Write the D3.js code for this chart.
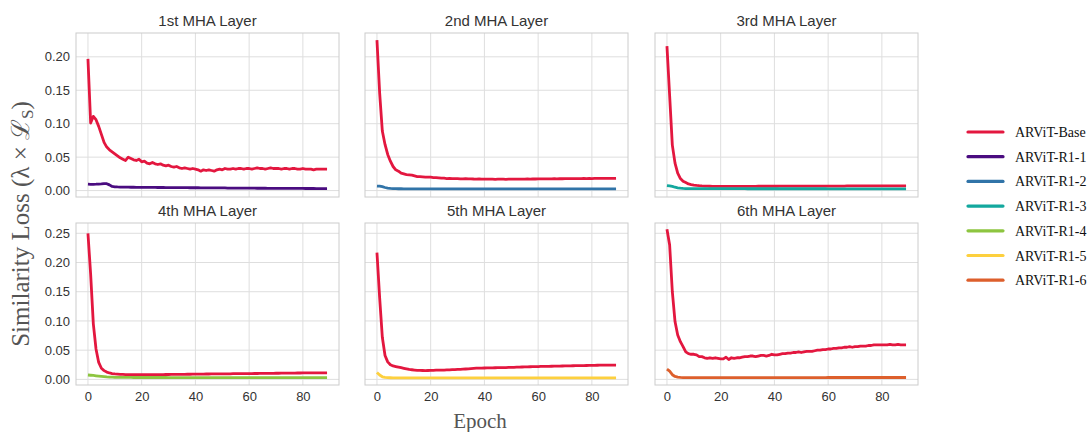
<!DOCTYPE html>
<html>
<head>
<meta charset="utf-8">
<script src="https://cdn.jsdelivr.net/npm/d3@7"></script>
<style>
  body { margin: 0; background: #fff; }
</style>
</head>
<body>
<div id="chart"></div>
<script>
var width = 1088,
    height = 432;

// one title per subplot, left to right, top to bottom
var titles = ["1st MHA Layer", "2nd MHA Layer", "3rd MHA Layer",
              "4th MHA Layer", "5th MHA Layer", "6th MHA Layer"];

var seriesNames = ["ARViT-Base", "ARViT-R1-1", "ARViT-R1-2", "ARViT-R1-3",
                   "ARViT-R1-4", "ARViT-R1-5", "ARViT-R1-6"];
var seriesColors = ["#e3173f", "#4a0c80", "#3174a8", "#13a89e",
                    "#8dc540", "#fdd03e", "#dd5f2c"];

var xTicks = [0, 20, 40, 60, 80];
var yTicksTop = [0, 0.05, 0.10, 0.15, 0.20];
var yTicksBottom = [0, 0.05, 0.10, 0.15, 0.20, 0.25];

// loss per epoch (0..89)
var base1 = [0.197,0.101,0.111,0.106,0.096,0.084,0.072,0.065,0.061,0.058,
             0.055,0.052,0.049,0.047,0.045,0.050,0.048,0.046,0.045,0.047,
             0.043,0.044,0.041,0.040,0.042,0.040,0.039,0.040,0.038,0.037,
             0.038,0.036,0.035,0.036,0.034,0.033,0.034,0.033,0.032,0.033,
             0.032,0.031,0.029,0.031,0.030,0.031,0.030,0.029,0.031,0.032,
             0.031,0.033,0.032,0.032,0.033,0.032,0.033,0.033,0.032,0.033,
             0.033,0.032,0.033,0.034,0.033,0.033,0.032,0.033,0.034,0.033,
             0.033,0.033,0.032,0.033,0.033,0.032,0.033,0.033,0.032,0.032,
             0.033,0.032,0.032,0.032,0.031,0.032,0.032,0.032,0.032,0.032];
var r1_1 = [0.0095,0.0093,0.0094,0.0095,0.0098,0.0100,0.0105,0.0103,0.0085,0.0062,
            0.0056,0.0054,0.0053,0.0052,0.0051,0.0051,0.0050,0.0050,0.0049,0.0049,
            0.0048,0.0048,0.0048,0.0047,0.0047,0.0047,0.0046,0.0046,0.0046,0.0045,
            0.0045,0.0045,0.0044,0.0044,0.0044,0.0043,0.0043,0.0043,0.0042,0.0042,
            0.0042,0.0042,0.0041,0.0041,0.0041,0.0040,0.0040,0.0040,0.0040,0.0039,
            0.0039,0.0039,0.0038,0.0038,0.0038,0.0038,0.0037,0.0037,0.0037,0.0036,
            0.0036,0.0036,0.0036,0.0035,0.0035,0.0035,0.0035,0.0034,0.0034,0.0034,
            0.0034,0.0033,0.0033,0.0033,0.0033,0.0033,0.0032,0.0032,0.0032,0.0032,
            0.0032,0.0031,0.0031,0.0031,0.0031,0.0030,0.0030,0.0030,0.0030,0.0030];

var base2 = [0.225,0.146,0.089,0.069,0.054,0.044,0.036,0.031,0.029,0.026,
             0.025,0.024,0.0235,0.023,0.022,0.021,0.021,0.0205,0.020,0.020,
             0.020,0.0195,0.0195,0.019,0.0185,0.0185,0.018,0.0182,0.018,0.0178,
             0.018,0.0176,0.0175,0.0177,0.0174,0.0175,0.0173,0.0172,0.0174,0.0172,
             0.0171,0.0172,0.017,0.0171,0.0169,0.017,0.0171,0.017,0.0169,0.017,
             0.017,0.0171,0.017,0.0172,0.0171,0.0172,0.0173,0.0172,0.0174,0.0173,
             0.0174,0.0175,0.0174,0.0176,0.0175,0.0176,0.0177,0.0176,0.0178,0.0177,
             0.0178,0.0179,0.0178,0.0179,0.018,0.0179,0.018,0.0181,0.018,0.0181,
             0.018,0.0181,0.0182,0.0181,0.0182,0.0181,0.0182,0.0182,0.0181,0.0182];
var r1_2 = [0.0068,0.0066,0.0058,0.0046,0.0038,0.0033,0.0030,0.0028,0.0027,0.0027,
            0.0026,0.0026,0.0026,0.0026,0.0026,0.0026,0.0026,0.0026,0.0026,0.0026,
            0.0026,0.0026,0.0026,0.0026,0.0026,0.0026,0.0026,0.0026,0.0026,0.0026,
            0.0026,0.0026,0.0026,0.0026,0.0026,0.0026,0.0026,0.0026,0.0026,0.0026,
            0.0025,0.0025,0.0025,0.0025,0.0025,0.0025,0.0025,0.0025,0.0025,0.0025,
            0.0025,0.0025,0.0025,0.0025,0.0025,0.0025,0.0025,0.0025,0.0025,0.0025,
            0.0025,0.0025,0.0025,0.0025,0.0025,0.0025,0.0025,0.0025,0.0025,0.0025,
            0.0024,0.0024,0.0024,0.0024,0.0024,0.0024,0.0024,0.0024,0.0024,0.0024,
            0.0024,0.0024,0.0024,0.0024,0.0024,0.0024,0.0024,0.0024,0.0024,0.0024];

var base3 = [0.216,0.142,0.068,0.041,0.026,0.018,0.014,0.012,0.010,0.009,
             0.0082,0.0077,0.0073,0.0070,0.0068,0.0066,0.0065,0.0064,0.0064,0.0063,
             0.0063,0.0063,0.0063,0.0063,0.0063,0.0063,0.0063,0.0064,0.0064,0.0064,
             0.0064,0.0064,0.0064,0.0064,0.0065,0.0065,0.0065,0.0065,0.0065,0.0065,
             0.0065,0.0065,0.0066,0.0066,0.0066,0.0066,0.0066,0.0066,0.0066,0.0066,
             0.0067,0.0067,0.0067,0.0067,0.0067,0.0067,0.0067,0.0067,0.0068,0.0068,
             0.0068,0.0068,0.0068,0.0068,0.0068,0.0068,0.0068,0.0069,0.0069,0.0069,
             0.0069,0.0069,0.0069,0.0069,0.0069,0.0069,0.0070,0.0070,0.0070,0.0070,
             0.0070,0.0070,0.0070,0.0070,0.0070,0.0070,0.0070,0.0070,0.0070,0.0070];
var r1_3 = [0.0075,0.0070,0.0062,0.0050,0.0042,0.0036,0.0032,0.0030,0.0029,0.0028,
            0.0028,0.0028,0.0028,0.0028,0.0028,0.0028,0.0028,0.0028,0.0028,0.0028,
            0.0028,0.0028,0.0028,0.0028,0.0028,0.0028,0.0028,0.0028,0.0028,0.0028,
            0.0027,0.0027,0.0027,0.0027,0.0027,0.0027,0.0027,0.0027,0.0027,0.0027,
            0.0027,0.0027,0.0027,0.0027,0.0027,0.0027,0.0027,0.0027,0.0027,0.0027,
            0.0027,0.0027,0.0027,0.0027,0.0027,0.0027,0.0027,0.0027,0.0027,0.0027,
            0.0026,0.0026,0.0026,0.0026,0.0026,0.0026,0.0026,0.0026,0.0026,0.0026,
            0.0026,0.0026,0.0026,0.0026,0.0026,0.0026,0.0026,0.0026,0.0026,0.0026,
            0.0026,0.0026,0.0026,0.0026,0.0026,0.0026,0.0026,0.0026,0.0026,0.0026];

var base4 = [0.250,0.180,0.095,0.052,0.029,0.019,0.015,0.0125,0.011,0.010,
             0.0093,0.009,0.0087,0.0085,0.0083,0.0082,0.0081,0.008,0.008,0.008,
             0.008,0.008,0.008,0.0081,0.0081,0.0082,0.0082,0.0083,0.0083,0.0084,
             0.0084,0.0085,0.0085,0.0086,0.0086,0.0087,0.0087,0.0088,0.0088,0.0089,
             0.009,0.009,0.0091,0.0091,0.0092,0.0092,0.0093,0.0093,0.0094,0.0094,
             0.0095,0.0095,0.0096,0.0096,0.0097,0.0097,0.0098,0.0098,0.0099,0.0099,
             0.010,0.010,0.0101,0.0101,0.0102,0.0102,0.0103,0.0103,0.0104,0.0104,
             0.0105,0.0105,0.0106,0.0106,0.0107,0.0107,0.0108,0.0108,0.0109,0.0109,
             0.011,0.011,0.011,0.0111,0.0111,0.0111,0.0112,0.0112,0.0112,0.0112];
var r1_4 = [0.0075,0.0071,0.0067,0.0061,0.0055,0.0050,0.0046,0.0042,0.0040,0.0038,
            0.0036,0.0035,0.0034,0.0034,0.0033,0.0033,0.0033,0.0032,0.0032,0.0032,
            0.0032,0.0032,0.0032,0.0032,0.0032,0.0032,0.0032,0.0032,0.0032,0.0032,
            0.0031,0.0031,0.0031,0.0031,0.0031,0.0031,0.0031,0.0031,0.0031,0.0031,
            0.0031,0.0031,0.0031,0.0031,0.0031,0.0031,0.0031,0.0031,0.0031,0.0031,
            0.0030,0.0030,0.0030,0.0030,0.0030,0.0030,0.0030,0.0030,0.0030,0.0030,
            0.0030,0.0030,0.0030,0.0030,0.0030,0.0030,0.0030,0.0030,0.0030,0.0030,
            0.0030,0.0030,0.0030,0.0030,0.0030,0.0030,0.0030,0.0030,0.0030,0.0030,
            0.0030,0.0030,0.0030,0.0030,0.0030,0.0030,0.0030,0.0030,0.0030,0.0030];

var base5 = [0.217,0.140,0.072,0.041,0.030,0.025,0.023,0.022,0.021,0.020,
             0.019,0.018,0.017,0.0165,0.016,0.0155,0.0153,0.0152,0.015,0.0152,
             0.0155,0.0155,0.0157,0.0158,0.016,0.016,0.0162,0.0164,0.0166,0.0168,
             0.017,0.0172,0.0175,0.0178,0.018,0.0185,0.0188,0.0192,0.0193,0.0194,
             0.0195,0.0196,0.0197,0.0198,0.0199,0.020,0.0201,0.0202,0.0203,0.0204,
             0.0205,0.0207,0.0209,0.0211,0.0212,0.0214,0.0215,0.0216,0.0218,0.0219,
             0.022,0.0221,0.0222,0.0223,0.0224,0.0225,0.0226,0.0227,0.0228,0.0229,
             0.023,0.0231,0.0232,0.0233,0.0234,0.0235,0.0236,0.0237,0.0238,0.0239,
             0.024,0.0241,0.0242,0.0243,0.0244,0.0244,0.0245,0.0245,0.0245,0.0245];
var r1_5 = [0.0120,0.0075,0.0045,0.0035,0.0030,0.0028,0.0027,0.0027,0.0027,0.0027,
            0.0027,0.0027,0.0027,0.0027,0.0027,0.0027,0.0027,0.0027,0.0027,0.0027,
            0.0026,0.0026,0.0026,0.0026,0.0026,0.0026,0.0026,0.0026,0.0026,0.0026,
            0.0026,0.0026,0.0026,0.0026,0.0026,0.0026,0.0026,0.0026,0.0026,0.0026,
            0.0026,0.0026,0.0026,0.0026,0.0026,0.0026,0.0026,0.0026,0.0026,0.0026,
            0.0025,0.0025,0.0025,0.0025,0.0025,0.0025,0.0025,0.0025,0.0025,0.0025,
            0.0025,0.0025,0.0025,0.0025,0.0025,0.0025,0.0025,0.0025,0.0025,0.0025,
            0.0025,0.0025,0.0025,0.0025,0.0025,0.0025,0.0025,0.0025,0.0025,0.0025,
            0.0025,0.0025,0.0025,0.0025,0.0025,0.0025,0.0025,0.0025,0.0025,0.0025];

var base6 = [0.257,0.230,0.150,0.099,0.076,0.0645,0.056,0.047,0.044,0.043,
             0.043,0.042,0.039,0.039,0.037,0.036,0.037,0.036,0.037,0.036,
             0.035,0.035,0.038,0.034,0.037,0.036,0.037,0.037,0.038,0.039,
             0.039,0.040,0.040,0.039,0.040,0.041,0.041,0.040,0.041,0.043,
             0.042,0.042,0.043,0.044,0.044,0.045,0.045,0.046,0.046,0.047,
             0.046,0.047,0.048,0.048,0.048,0.049,0.050,0.050,0.051,0.051,
             0.052,0.052,0.053,0.053,0.054,0.054,0.055,0.055,0.056,0.055,
             0.056,0.056,0.057,0.057,0.057,0.058,0.058,0.059,0.059,0.059,
             0.059,0.059,0.059,0.060,0.059,0.059,0.060,0.059,0.059,0.059];
var r1_6 = [0.0177,0.0140,0.0080,0.0050,0.0038,0.0033,0.0030,0.0030,0.0030,0.0030,
            0.0030,0.0030,0.0030,0.0030,0.0030,0.0030,0.0030,0.0030,0.0030,0.0030,
            0.0030,0.0030,0.0030,0.0030,0.0030,0.0030,0.0030,0.0030,0.0030,0.0030,
            0.0031,0.0031,0.0031,0.0031,0.0031,0.0031,0.0031,0.0031,0.0031,0.0031,
            0.0031,0.0031,0.0031,0.0031,0.0031,0.0031,0.0031,0.0031,0.0031,0.0031,
            0.0031,0.0031,0.0031,0.0031,0.0031,0.0031,0.0031,0.0031,0.0031,0.0031,
            0.0032,0.0032,0.0032,0.0032,0.0032,0.0032,0.0032,0.0032,0.0032,0.0032,
            0.0032,0.0032,0.0032,0.0032,0.0032,0.0032,0.0032,0.0032,0.0032,0.0032,
            0.0032,0.0032,0.0032,0.0032,0.0032,0.0032,0.0032,0.0032,0.0032,0.0032];

var baseSeries = [base1, base2, base3, base4, base5, base6];
var refSeries = [r1_1, r1_2, r1_3, r1_4, r1_5, r1_6];

// layout
var colLeft = [76, 365, 655],
    panelW = 263;
var rowTop = [33, 223],
    rowH = [164, 162];
var gridColor = "#dedede",
    spineColor = "#cccccc";

var svg = d3.select("#chart").append("svg")
    .attr("width", width)
    .attr("height", height)
    .style("font-family", "'Liberation Sans', Arial, sans-serif");

var x = d3.scaleLinear().domain([-4.45, 93.45]);
var yTop = d3.scaleLinear().domain([-0.0096, 0.2356]);
var yBottom = d3.scaleLinear().domain([-0.0096, 0.2676]);

titles.forEach(function(title, i) {
    var col = i % 3,
        row = Math.floor(i / 3);
    var left = colLeft[col],
        top = rowTop[row],
        h = rowH[row];

    var xs = x.copy().range([0, panelW]);
    var ys = (row === 0 ? yTop : yBottom).copy().range([h, 0]);
    var yTicks = row === 0 ? yTicksTop : yTicksBottom;

    var g = svg.append("g").attr("transform", "translate(" + left + "," + top + ")");

    g.append("clipPath").attr("id", "clip" + i)
      .append("rect").attr("width", panelW).attr("height", h);

    // grid
    g.append("g").selectAll("line.v").data(xTicks).enter().append("line")
        .attr("x1", xs).attr("x2", xs)
        .attr("y1", 0).attr("y2", h)
        .attr("stroke", gridColor).attr("stroke-width", 1);
    g.append("g").selectAll("line.h").data(yTicks).enter().append("line")
        .attr("x1", 0).attr("x2", panelW)
        .attr("y1", ys).attr("y2", ys)
        .attr("stroke", gridColor).attr("stroke-width", 1);

    g.append("rect")
        .attr("width", panelW).attr("height", h)
        .attr("fill", "none")
        .attr("stroke", spineColor).attr("stroke-width", 1);

    // tick labels: y on first column, x on bottom row
    if (col === 0) {
        var yAxis = g.append("g")
            .call(d3.axisLeft(ys).tickValues(yTicks).tickFormat(d3.format(".2f")).tickSize(0).tickPadding(6));
        yAxis.select(".domain").remove();
        yAxis.selectAll("text").attr("font-size", 13).attr("fill", "#333")
            .style("font-family", "'Liberation Sans', Arial, sans-serif");
    }
    if (row === 1) {
        var xAxis = g.append("g").attr("transform", "translate(0," + h + ")")
            .call(d3.axisBottom(xs).tickValues(xTicks).tickSize(0).tickPadding(7));
        xAxis.select(".domain").remove();
        xAxis.selectAll("text").attr("font-size", 13).attr("fill", "#333")
            .style("font-family", "'Liberation Sans', Arial, sans-serif");
    }

    g.append("text")
        .attr("x", panelW / 2).attr("y", -7)
        .attr("text-anchor", "middle")
        .attr("font-size", 15).attr("fill", "#333")
        .text(title);

    var line = d3.line()
        .x(function(d, k) { return xs(k); })
        .y(function(d) { return ys(d); });

    var lines = g.append("g").attr("clip-path", "url(#clip" + i + ")");
    lines.append("path").datum(baseSeries[i])
        .attr("d", line)
        .attr("fill", "none")
        .attr("stroke", seriesColors[0])
        .attr("stroke-width", 2.8)
        .attr("stroke-linejoin", "round");
    lines.append("path").datum(refSeries[i])
        .attr("d", line)
        .attr("fill", "none")
        .attr("stroke", seriesColors[i + 1])
        .attr("stroke-width", 2.8)
        .attr("stroke-linejoin", "round");
});

// axis titles
var yLabel = svg.append("text")
    .attr("transform", "translate(29,224) rotate(-90)")
    .attr("text-anchor", "middle")
    .attr("font-size", 25)
    .attr("fill", "#555")
    .style("font-family", "'Liberation Serif', 'Times New Roman', serif");
yLabel.append("tspan").text("Similarity Loss (\u03bb \u00d7 \u2112");
yLabel.append("tspan").attr("font-size", 17).attr("dy", 4).text("S");
yLabel.append("tspan").attr("dy", -4).text(")");

svg.append("text")
    .attr("x", 480).attr("y", 428)
    .attr("text-anchor", "middle")
    .attr("font-size", 21)
    .attr("fill", "#555")
    .style("font-family", "'Liberation Serif', 'Times New Roman', serif")
    .text("Epoch");

// legend
var legend = svg.append("g").attr("transform", "translate(968,132)");
var item = legend.selectAll("g").data(seriesNames).enter().append("g")
    .attr("transform", function(d, i) { return "translate(0," + i * 24.7 + ")"; });
item.append("line")
    .attr("x1", 0).attr("x2", 35)
    .attr("stroke", function(d, i) { return seriesColors[i]; })
    .attr("stroke-width", 3.2)
    .attr("stroke-linecap", "round");
item.append("text")
    .attr("x", 47).attr("y", 5)
    .attr("font-size", 14)
    .attr("fill", "#111")
    .style("font-family", "'Liberation Serif', 'Times New Roman', serif")
    .text(function(d) { return d; });
</script>
</body>
</html>
